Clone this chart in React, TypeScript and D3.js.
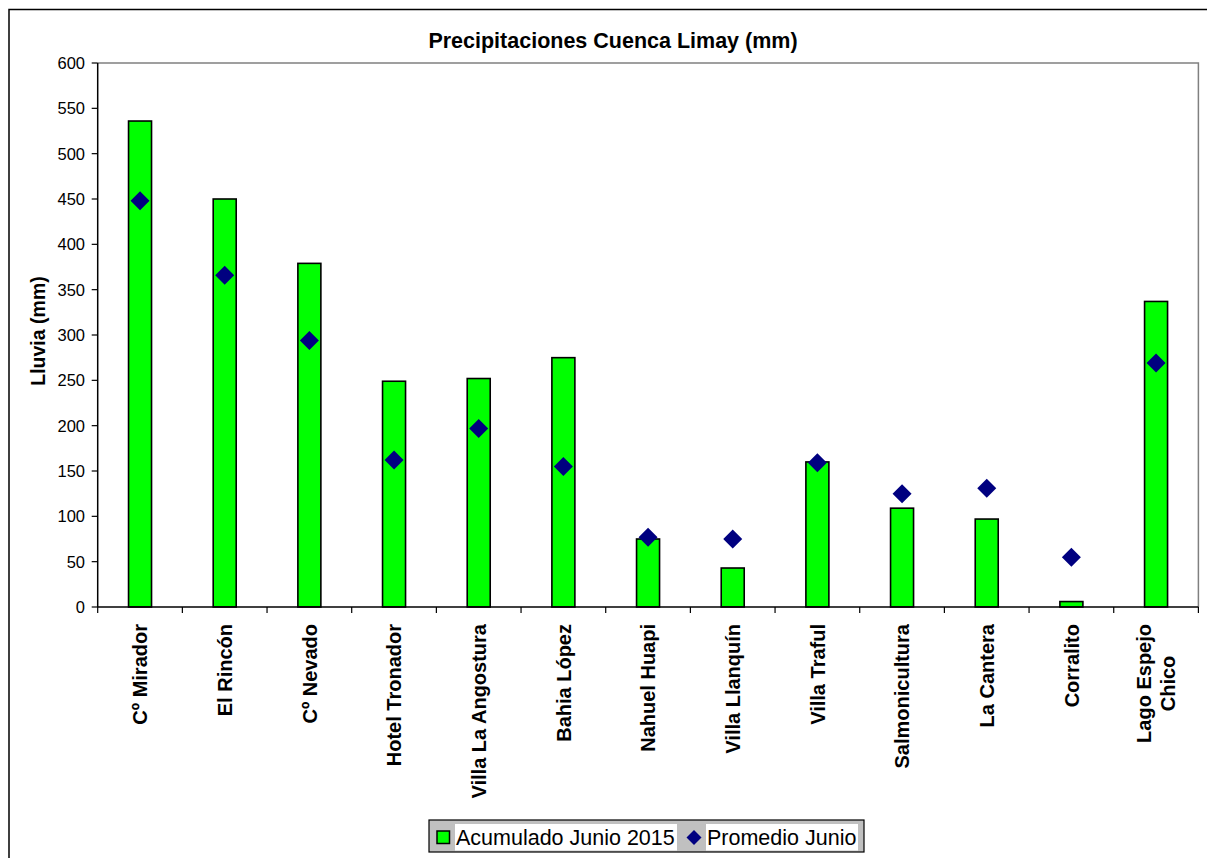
import React, { useEffect, useRef } from "react";
import * as d3 from "d3";

const categories = [
  "Cº Mirador",
  "El Rincón",
  "Cº Nevado",
  "Hotel Tronador",
  "Villa La Angostura",
  "Bahia López",
  "Nahuel Huapi",
  "Villa Llanquín",
  "Villa Traful",
  "Salmonicultura",
  "La Cantera",
  "Corralito",
  "Lago Espejo\nChico",
];
const acumulado = [536, 450, 379, 249, 252, 275, 75, 43, 160, 109, 97, 6, 337];
const promedio = [448, 366, 294, 162, 197, 155, 77, 75, 159, 125, 131, 55, 269];
const yTicks = [0, 50, 100, 150, 200, 250, 300, 350, 400, 450, 500, 550, 600];
const titleText = "Precipitaciones Cuenca Limay (mm)";
const yLabel = "Lluvia (mm)";
const seriesNames = ["Acumulado Junio 2015", "Promedio Junio"];

const W = 1207;
const H = 858;
const FONT = "'Liberation Sans', Arial, sans-serif";

export default function App() {
  const ref = useRef<SVGSVGElement | null>(null);

  useEffect(() => {
    const svg = d3.select(ref.current);
    svg.selectAll("*").remove();

    const left = 97.7, right = 1198.4, top = 63, bottom = 607;
    const x = d3.scaleBand<string>().domain(categories).range([left, right]).paddingInner(0).paddingOuter(0);
    const y = d3.scaleLinear().domain([0, 600]).range([bottom, top]);
    const bw = x.bandwidth();
    const barW = 23;

    svg.append("rect").attr("x", 0).attr("y", 0).attr("width", W).attr("height", H).attr("fill", "#fff");
    // outer chart border
    svg.append("rect").attr("x", 9).attr("y", 9.5).attr("width", 1260).attr("height", 900)
      .attr("fill", "none").attr("stroke", "#000").attr("stroke-width", 1.5);

    // plot area border (gray top & right)
    svg.append("path")
      .attr("d", `M${left},${top}H${right}V${bottom}`)
      .attr("fill", "none").attr("stroke", "#808080").attr("stroke-width", 1.5);

    // title
    svg.append("text").attr("x", 613).attr("y", 48).attr("text-anchor", "middle")
      .attr("font-family", FONT).attr("font-weight", "bold").attr("font-size", 21.5)
      .text(titleText);

    // y axis label
    svg.append("text").attr("transform", `translate(45,331) rotate(-90)`)
      .attr("text-anchor", "middle").attr("font-family", FONT).attr("font-weight", "bold")
      .attr("font-size", 19.5).text(yLabel);

    // bars
    svg.append("g").selectAll("rect").data(acumulado).join("rect")
      .attr("x", (_, i) => x(categories[i])! + bw / 2 - barW / 2)
      .attr("y", (d) => y(d))
      .attr("width", barW)
      .attr("height", (d) => y(0) - y(d))
      .attr("fill", "#00ff00").attr("stroke", "#000").attr("stroke-width", 1.6);

    // diamonds
    const dsz = 9.5;
    svg.append("g").selectAll("path").data(promedio).join("path")
      .attr("d", (d, i) => {
        const cx = x(categories[i])! + bw / 2;
        const cy = y(d);
        return `M${cx},${cy - dsz}L${cx + dsz},${cy}L${cx},${cy + dsz}L${cx - dsz},${cy}Z`;
      })
      .attr("fill", "#000080");

    // y axis
    const yAxis = svg.append("g");
    yAxis.append("line").attr("x1", left).attr("x2", left).attr("y1", top).attr("y2", bottom)
      .attr("stroke", "#000").attr("stroke-width", 1.5);
    yTicks.forEach((t) => {
      yAxis.append("line").attr("x1", left - 6).attr("x2", left).attr("y1", y(t)).attr("y2", y(t))
        .attr("stroke", "#000").attr("stroke-width", 1.2);
      yAxis.append("text").attr("x", 85).attr("y", y(t)).attr("dy", "0.36em")
        .attr("text-anchor", "end").attr("font-family", FONT).attr("font-size", 16.5).text(String(t));
    });

    // x axis
    const xAxis = svg.append("g");
    xAxis.append("line").attr("x1", left).attr("x2", right).attr("y1", bottom).attr("y2", bottom)
      .attr("stroke", "#000").attr("stroke-width", 1.5);
    const bounds = categories.map((c) => x(c)!).concat([right]);
    bounds.forEach((b) => {
      xAxis.append("line").attr("x1", b).attr("x2", b).attr("y1", bottom).attr("y2", bottom + 6)
        .attr("stroke", "#000").attr("stroke-width", 1.2);
    });
    const labelTop = 624;
    const lineH = 24;
    categories.forEach((c) => {
      const lines = c.split("\n");
      const cx = x(c)! + bw / 2;
      const t = xAxis.append("text")
        .attr("font-family", FONT).attr("font-weight", "bold").attr("font-size", 20)
        .attr("text-anchor", lines.length > 1 ? "middle" : "end");
      lines.forEach((ln, k) => {
        t.append("tspan").attr("x", 0).attr("y", (k - (lines.length - 1) / 2) * lineH).attr("dy", "0.36em").text(ln);
      });
      if (lines.length > 1) {
        let maxLen = 0;
        t.selectAll<SVGTSpanElement, unknown>("tspan").each(function () {
          maxLen = Math.max(maxLen, this.getComputedTextLength());
        });
        t.attr("transform", `translate(${cx},${labelTop + maxLen / 2}) rotate(-90)`);
      } else {
        t.attr("transform", `translate(${cx},${labelTop}) rotate(-90)`);
      }
    });

    // legend
    const lg = svg.append("g");
    lg.append("rect").attr("x", 429).attr("y", 820).attr("width", 435).attr("height", 32)
      .attr("fill", "#c0c0c0").attr("stroke", "#000").attr("stroke-width", 1.2);
    lg.append("rect").attr("x", 455).attr("y", 824).attr("width", 222).attr("height", 26.5).attr("fill", "#fff");
    lg.append("rect").attr("x", 706).attr("y", 824).attr("width", 152).attr("height", 26.5).attr("fill", "#fff");
    lg.append("rect").attr("x", 437).attr("y", 831).attr("width", 12.5).attr("height", 12.5)
      .attr("fill", "#00ff00").attr("stroke", "#000").attr("stroke-width", 1.5);
    const lx = 694, ly = 837.5, ls = 7.5;
    lg.append("path").attr("d", `M${lx},${ly - ls}L${lx + ls},${ly}L${lx},${ly + ls}L${lx - ls},${ly}Z`).attr("fill", "#000080");
    lg.append("text").attr("x", 456).attr("y", 845).attr("font-family", FONT).attr("font-size", 21.5).text(seriesNames[0]);
    lg.append("text").attr("x", 707).attr("y", 845).attr("font-family", FONT).attr("font-size", 21.5).text(seriesNames[1]);
  }, []);

  return (
    <svg
      ref={ref}
      width={W}
      height={H}
      style={{ position: "absolute", left: 0, top: 0, display: "block" }}
    />
  );
}
